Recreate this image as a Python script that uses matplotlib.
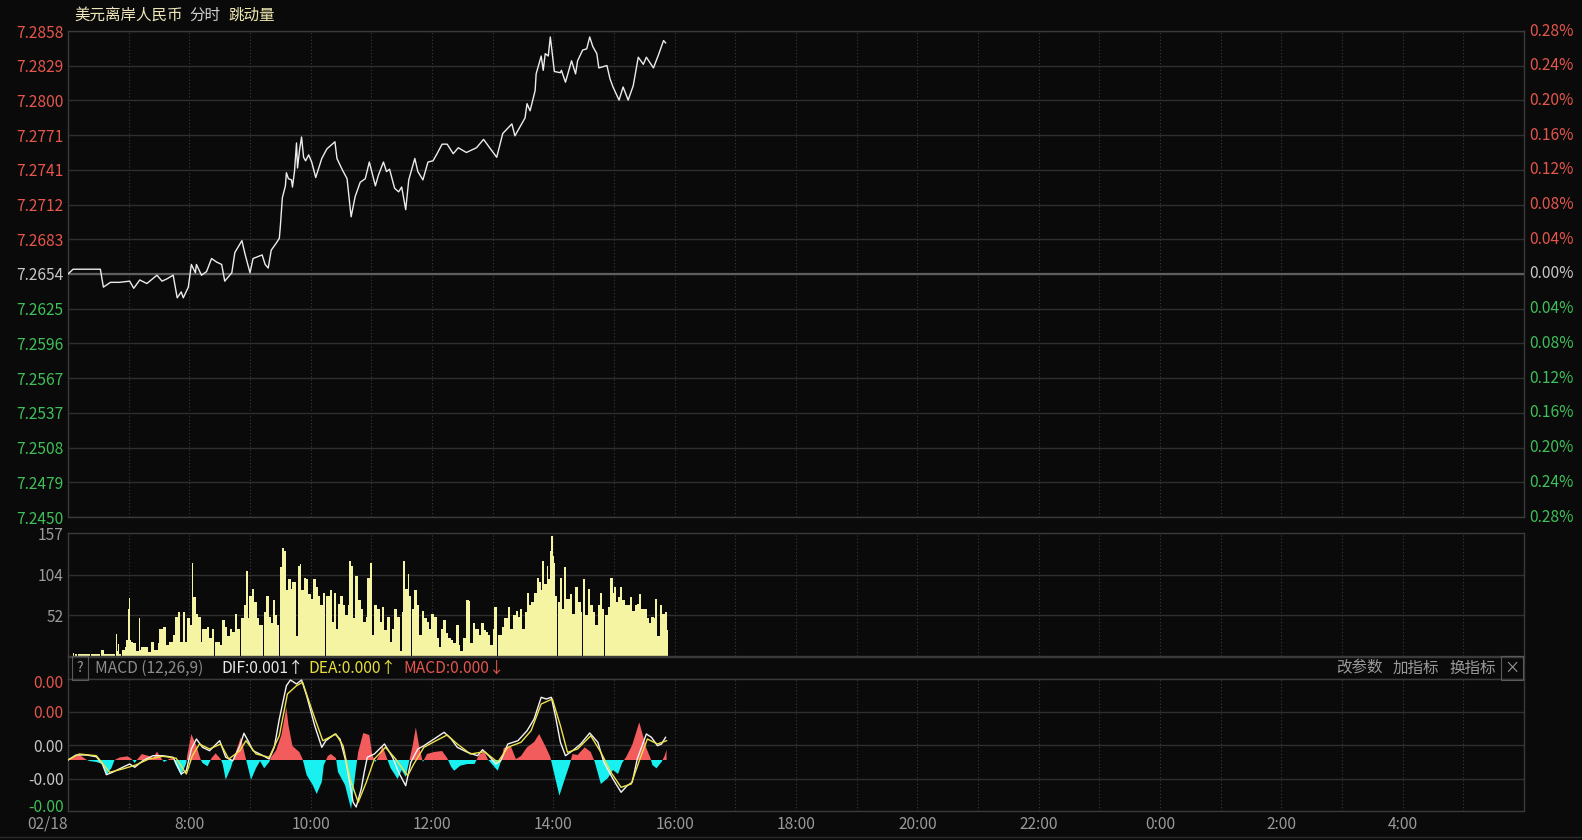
import numpy as np
import matplotlib.pyplot as plt
from matplotlib.lines import Line2D
from matplotlib.transforms import blended_transform_factory

plt.rcParams['font.family'] = ['Noto Sans CJK SC', 'DejaVu Sans']

W, H = 1582, 840
BG = '#0a0a0a'
RED = '#e5564d'
GREEN = '#3fc05a'
GRAY = '#9a9a9a'
FS = 11.2

# ---------------- data (x = minutes since 06:00 on 02/18) ----------------
pre_close = 7.2654
half_range = 0.0204
price_labels = ["7.2858", "7.2829", "7.2800", "7.2771", "7.2741", "7.2712", "7.2683", "7.2654",
                "7.2625", "7.2596", "7.2567", "7.2537", "7.2508", "7.2479", "7.2450"]
pct_labels = ["0.28%", "0.24%", "0.20%", "0.16%", "0.12%", "0.08%", "0.04%", "0.00%",
              "0.04%", "0.08%", "0.12%", "0.16%", "0.20%", "0.24%", "0.28%"]

price_min = [0, 5, 32, 35, 42, 51, 61, 65, 71, 78, 88, 93, 98, 104, 108, 112, 114, 119, 122, 126,
             127, 132, 137, 142, 147, 152, 155, 162, 165, 172, 175, 180, 183, 192, 195, 198, 201, 206, 209, 210,
             212, 215, 216, 218, 221, 222, 224, 226, 227, 229, 231, 233, 235, 238, 241, 245, 251, 256, 264, 266,
             271, 276, 280, 284, 289, 294, 298, 304, 307, 312, 315, 318, 323, 327, 330, 334, 337, 343, 346, 351,
             356, 361, 365, 370, 375, 381, 386, 394, 404, 411, 417, 424, 430, 439, 442, 452, 454, 457, 462, 463,
             468, 470, 472, 475, 477, 478, 481, 487, 488, 492, 498, 502, 504, 509, 513, 516, 519, 523, 525, 533,
             536, 539, 545, 549, 554, 559, 564, 569, 572, 579, 584, 589, 591]
price = [7.2654, 7.2658, 7.2658, 7.2643, 7.2647, 7.2647, 7.2648, 7.2642, 7.2649, 7.2646, 7.2653, 7.2648,
         7.2650, 7.2653, 7.2634, 7.2639, 7.2634, 7.2643, 7.2662, 7.2655,
         7.2662, 7.2653, 7.2656, 7.2667, 7.2664, 7.2662, 7.2648, 7.2655, 7.2672, 7.2682, 7.2671, 7.2655,
         7.2667, 7.2670, 7.2662, 7.2659, 7.2674, 7.2680, 7.2684, 7.2694,
         7.2718, 7.2728, 7.2739, 7.2734, 7.2733, 7.2727, 7.2740, 7.2764, 7.2743, 7.2758, 7.2769, 7.2752,
         7.2749, 7.2754, 7.2748, 7.2735, 7.2751, 7.2759, 7.2765, 7.2751,
         7.2742, 7.2734, 7.2702, 7.2719, 7.2731, 7.2734, 7.2748, 7.2728, 7.2737, 7.2748, 7.2740, 7.2742,
         7.2726, 7.2723, 7.2727, 7.2708, 7.2733, 7.2751, 7.2740, 7.2733,
         7.2748, 7.2749, 7.2755, 7.2763, 7.2763, 7.2755, 7.2760, 7.2756, 7.2760, 7.2767, 7.2760, 7.2752,
         7.2772, 7.2780, 7.2770, 7.2785, 7.2797, 7.2791, 7.2808, 7.2822,
         7.2837, 7.2825, 7.2839, 7.2837, 7.2853, 7.2846, 7.2824, 7.2823, 7.2825, 7.2815, 7.2833, 7.2822,
         7.2833, 7.2842, 7.2843, 7.2853, 7.2845, 7.2839, 7.2827, 7.2829,
         7.2818, 7.2811, 7.2800, 7.2811, 7.2800, 7.2812, 7.2836, 7.2830, 7.2836, 7.2827, 7.2838, 7.2850,
         7.2848]

vol_min = [5, 6, 8, 9, 21, 22, 31, 32, 34, 36, 38, 41, 44, 46, 47, 48, 49, 50, 52, 55,
           56, 57, 59, 60, 61, 62, 64, 67, 70, 71, 72, 75, 79, 82, 85, 89, 90, 94, 97, 100,
           104, 106, 109, 111, 114, 116, 118, 121, 123, 124, 127, 129, 132, 133, 137, 139, 142, 144, 147, 150,
           152, 155, 157, 160, 162, 165, 167, 170, 171, 174, 176, 178, 179, 182, 184, 187, 189, 193, 194, 196,
           199, 201, 203, 205, 207, 209, 211, 212, 214, 216, 218, 221, 222, 225, 227, 229, 230, 233, 235, 237,
           240, 242, 245, 247, 249, 252, 254, 256, 259, 261, 263, 265, 267, 269, 272, 274, 277, 278, 280, 282,
           284, 287, 290, 292, 295, 296, 299, 301, 303, 306, 309, 311, 313, 315, 318, 320, 322, 325, 328, 330,
           331, 333, 336, 337, 339, 341, 342, 345, 347, 350, 352, 355, 357, 359, 362, 365, 367, 369, 371, 374,
           376, 379, 381, 384, 387, 388, 391, 394, 397, 398, 401, 403, 406, 408, 411, 413, 415, 417, 420, 421,
           424, 426, 429, 431, 435, 437, 440, 443, 445, 447, 449, 452, 454, 456, 458, 461, 464, 466, 468, 469,
           471, 474, 475, 477, 478, 480, 481, 482, 484, 486, 487, 489, 491, 493, 496, 498, 501, 504, 507, 508,
           509, 511, 514, 516, 519, 521, 524, 526, 528, 530, 532, 534, 536, 539, 540, 542, 544, 546, 548, 551,
           553, 556, 558, 561, 563, 565, 567, 570, 573, 575, 577, 580, 581, 583, 585, 587, 590, 592]
vol = [4, 0, 3, 0, 2, 0, 2, 0, 8, 3, 2, 2, 2, 0, 28, 6, 15, 2, 0, 8,
       12, 20, 60, 74, 20, 18, 16, 6, 49, 8, 12, 12, 5, 18, 8, 16, 34, 37, 14, 18,
       27, 50, 56, 18, 56, 18, 48, 39, 119, 75, 54, 50, 18, 35, 37, 23, 35, 0, 18, 14,
       46, 37, 25, 35, 31, 54, 35, 0, 48, 65, 109, 48, 77, 86, 69, 48, 39, 0, 56, 77,
       50, 42, 71, 52, 39, 0, 113, 138, 134, 84, 98, 86, 94, 25, 115, 117, 84, 100, 98, 79,
       73, 98, 88, 77, 65, 81, 0, 77, 84, 44, 81, 35, 67, 77, 65, 52, 65, 121, 115, 48,
       102, 71, 60, 44, 50, 100, 119, 27, 65, 60, 44, 63, 33, 50, 18, 35, 60, 50, 6, 56,
       121, 86, 105, 77, 0, 60, 84, 65, 27, 58, 48, 44, 35, 54, 50, 23, 12, 35, 46, 29,
       23, 21, 16, 39, 14, 6, 23, 72, 70, 16, 42, 35, 27, 42, 33, 31, 27, 14, 35, 63,
       0, 27, 37, 48, 63, 35, 52, 58, 50, 60, 35, 56, 81, 65, 69, 81, 100, 94, 84, 121,
       92, 115, 98, 134, 153, 128, 119, 77, 0, 69, 100, 60, 113, 73, 79, 54, 88, 69, 56, 0,
       98, 52, 86, 65, 56, 39, 65, 81, 60, 0, 52, 63, 100, 81, 88, 69, 75, 88, 71, 65,
       65, 75, 58, 65, 67, 79, 60, 60, 48, 42, 50, 48, 73, 25, 65, 54, 56, 33]

# MACD values in units of 1e-5
macd_unit = 1e-5
hist_min = [1, 6, 11, 18, 21, 28, 34, 38, 43, 46, 51, 59, 63, 66, 68, 73, 80, 84, 88, 92,
            95, 100, 104, 106, 112, 117, 118, 122, 127, 131, 133, 138, 142, 146, 151, 153, 156, 161, 165, 171,
            175, 177, 181, 186, 190, 194, 199, 201, 206, 211, 216, 218, 222, 229, 232, 236, 242, 246, 251, 253,
            257, 260, 265, 267, 274, 280, 284, 287, 292,
            298, 301, 304, 308, 311, 315, 319, 326, 330, 334, 337, 341, 344, 348, 351, 355, 362, 370, 375, 379,
            382, 388, 395, 402, 407, 412, 415, 420, 425, 428, 431, 438, 443, 448, 454, 461, 466, 473, 477, 480,
            486, 491, 496, 499, 504, 511, 517, 521, 527, 534, 539, 544, 548, 552, 558, 565, 572, 576, 578, 582,
            587, 590, 592]
hist = [0, 3, 5.3, 0.5, -1, -2, -4, -15, -8, 0, 2.5, 3.7, 1, -3, 0, 6, 4, 2, 8.3, 2,
        -2, 1, 2, -4, -15.7, -3, 5, 26, 14, 1, -3, -6.3, 2, 6.7, 1, -4, -19.7, -8, 5, 22.7,
        5, -3, -19.7, -8, -1, -8.3, -2, 3, 10, 25, 52.7, 35, 14, 7.7, 1, -15, -25, -34, -22, -5,
        4, 6, 2, -12, -25, -49, -15, 8, 27,
        25, 5, -2, 5, 14.3, 3, -8, -19, -10, -17, -3, 15, 32.7, 10, -2, 6, 8, 9, 2, -7,
        -10.7, -5.7, -4, -4, 6, 7.7, 1, -5, -10.7, -2, 12, 13.7, 1, 4, 12.7, 18, 26, 12, 3, -10,
        -35.7, -20, -5, 6, 5, 12.7, 8, -2, -24, -18, -10, -14, -3, 3, 15, 37.7, 12, 2, -5, -8.3,
        -2, 4, 10.3]

dif_min = [0, 8, 18, 28, 34, 38, 44, 54, 61, 66, 74, 84, 94, 104, 112, 117, 122, 127, 133, 140,
           150, 156, 163, 170, 174, 178, 183, 193, 199, 204, 209, 216, 220, 226, 231, 236, 244, 251, 255, 264,
           269, 275, 282, 285, 290, 293, 296, 303, 313, 321, 327, 334, 339, 346, 352, 362, 372, 379, 385, 395,
           405, 410, 416, 423, 428, 435, 445, 454, 461, 468, 473, 478, 482, 487, 492, 499, 507, 516, 524, 530,
           539, 547, 553, 558, 563, 572, 577, 583, 587, 591]
dif = [0, 5, 5, 3.3, -4, -14.7, -12.3, -7.3, -4, -7.3, -0.7, 4.3, 4.3, 2.7, -14, -10.7, 11, 21, 12.7, 9.3,
       19.3, 2.7, -0.7, 14.3, 26.7, 19.3, 9.3, 4.3, 1, 12.7, 41, 74.3, 80, 76, 80, 64.3, 34.3, 12.7, 19.3, 26,
       21, -2.3, -42.3, -47, -29, -12, 2.7, 6, 16, 2.7, -12.3, -25.7, -2.3, 11, 14.3, 21, 27.7, 21, 12.7, 7.7,
       4.3, 10.3, 4.3, -4, -0.7, 16, 19.3, 29.3, 41, 62.7, 61, 62.7, 44.3, 17.7, 4.3, 9.3, 16, 27, 17.7, -2.3,
       -19, -32.3, -25.7, -22.3, 1, 26, 22.7, 14.3, 16, 22.7]

dea_min = [0, 11, 28, 36, 41, 54, 67, 80, 94, 107, 117, 123, 130, 140, 151, 159, 170, 176, 186, 199,
           209, 217, 226, 232, 242, 252, 265, 272, 279, 287, 295, 303, 314, 324, 336, 342, 352, 364, 375, 385,
           398, 412, 425, 435, 448, 458, 468, 479, 487, 494, 504, 517, 527, 537, 547, 557, 565, 573, 583, 592]
dea = [0, 6, 4.3, -5.7, -12.3, -9, -5, 1, 3.7, 1.7, -14, 4.3, 16, 11, 16, 1, 9.3, 19.3, 6, 2.7,
       24.3, 66, 74.3, 77.7, 47.7, 19.3, 26, 14.3, -19, -42.3, -22.3, 1, 12.7, 1, -15.7, -4, 12.7, 19.3, 25, 16,
       6, 8.3, -2.3, 12.7, 17.7, 29.3, 56, 61, 34.3, 7.7, 11, 24.3, 7.7, -12.3, -27.3, -24, -0.7, 21, 16, 19.3]

macd_ticks = [78, 48, 14.7, -18.7, -45]
macd_tick_colors = [RED, RED, '#c8c8c8', '#c8c8c8', GREEN]

hour_ticks = [120, 240, 360, 480, 600, 720, 840, 960, 1080, 1200, 1320]
hour_labels = ["8:00", "10:00", "12:00", "14:00", "16:00", "18:00", "20:00", "22:00", "0:00", "2:00", "4:00"]


# ---------------- layout ----------------
fig = plt.figure(figsize=(W / 100, H / 100), dpi=100, facecolor=BG)


def px_axes(x0, y0, x1, y1):
    ax = fig.add_axes([x0 / W, 1 - y1 / H, (x1 - x0) / W, (y1 - y0) / H])
    ax.set_facecolor(BG)
    ax.set_xlim(0, 1440)
    ax.set_xticks([])
    for s in ax.spines.values():
        s.set_color('#3a3a3a')
        s.set_linewidth(1)
    return ax


def hour_grid(ax):
    for m in range(60, 1440, 60):
        ax.axvline(m, color='#3a3a3a', lw=0.8, ls=(0, (1, 2)), zorder=0)


ax_p = px_axes(68, 31, 1524, 517)
ax_v = px_axes(68, 533, 1524, 656)
ax_h = px_axes(68, 657, 1524, 679)
ax_m = px_axes(68, 679, 1524, 811)

# ---- price panel ----
ticks = [pre_close + half_range * k / 7 for k in range(7, -8, -1)]
ax_p.set_ylim(pre_close - half_range, pre_close + half_range)
hour_grid(ax_p)
for t in ticks:
    ax_p.axhline(t, color='#2e2e2e', lw=1, zorder=0)
ax_p.axhline(pre_close, color='#5e5e5e', lw=1.6, zorder=1)
ax_p.plot(price_min, price, color='#ececec', lw=1.0, zorder=3)

ax_p.set_yticks(ticks)
ax_p.set_yticklabels(price_labels)
ax_p.tick_params(axis='y', length=0, pad=3, labelsize=FS)
tr = blended_transform_factory(ax_p.transAxes, ax_p.transData)
for i, (lab, t) in enumerate(zip(ax_p.get_yticklabels(), ticks)):
    c = RED if i < 7 else ('#c8c8c8' if i == 7 else GREEN)
    lab.set_color(c)
    ax_p.text(1 + 5 / 1456, t, pct_labels[i], transform=tr, ha='left', va='center',
              color=c, fontsize=FS, clip_on=False)

# ---- volume panel ----
ax_v.set_ylim(0, 157)
hour_grid(ax_v)
for t in (52, 104):
    ax_v.axhline(t, color='#2e2e2e', lw=1, zorder=0)
# zero-volume minutes are single-minute gaps; the next bar starts right after them
lefts = list(vol_min)
widths = list(np.diff(vol_min)) + [1.5]
for i, v in enumerate(vol):
    if v == 0 and i + 1 < len(vol):
        widths[i] = 1
        shift = lefts[i + 1] - (lefts[i] + 1)
        lefts[i + 1] -= shift
        widths[i + 1] += shift
ax_v.bar(lefts, vol, width=widths, align='edge', color='#f4f4a2', linewidth=0,
         antialiased=False, zorder=2)
ax_v.set_yticks([52, 104, 157])
ax_v.set_yticklabels(["52", "104", "157"])
ax_v.tick_params(axis='y', length=0, pad=3, labelsize=FS, labelcolor=GRAY)

# ---- MACD header strip ----
ax_h.set_yticks([])
fy = 1 - 668 / H
fig.text(80 / W, fy, "?", color=GRAY, fontsize=10, ha='center', va='center',
         bbox=dict(boxstyle='square,pad=0.35', fc='none', ec='#5a5a5a', lw=0.8))
fig.text(95 / W, fy, "MACD (12,26,9)", color='#8c8c8c', fontsize=FS, va='center')
fig.text(221 / W, fy, "DIF:0.001↑", color='#e8e8e8', fontsize=FS, va='center')
fig.text(308 / W, fy, "DEA:0.000↑", color='#e6df3c', fontsize=FS, va='center')
fig.text(403 / W, fy, "MACD:0.000↓", color=RED, fontsize=FS, va='center')
fig.text(1336 / W, fy, "改参数", color=GRAY, fontsize=FS, va='center')
fig.text(1393 / W, fy, "加指标", color=GRAY, fontsize=FS, va='center')
fig.text(1449 / W, fy, "换指标", color=GRAY, fontsize=FS, va='center')
fig.text(1512 / W, fy, "×", color=GRAY, fontsize=11, ha='center', va='center',
         bbox=dict(boxstyle='square,pad=0.25', fc='none', ec='#5a5a5a', lw=0.8))

# ---- MACD panel ----
ax_m.set_ylim(-51 * macd_unit, 81 * macd_unit)
hour_grid(ax_m)
for t in (48, 14.7, -18.7):
    ax_m.axhline(t * macd_unit, color='#2e2e2e', lw=1, zorder=0)
hm = np.array(hist_min)
hv = np.array(hist) * macd_unit
ax_m.fill_between(hm, 0, hv, where=hv >= 0, interpolate=True, color='#f25c5c', lw=0, zorder=2)
ax_m.fill_between(hm, 0, hv, where=hv <= 0, interpolate=True, color='#19f0f0', lw=0, zorder=2)
ax_m.plot(dif_min, np.array(dif) * macd_unit, color='#f4f4f4', lw=1.0, zorder=3)
ax_m.plot(dea_min, np.array(dea) * macd_unit, color='#ece24a', lw=1.0, zorder=3)
mt = [v * macd_unit for v in macd_ticks]
ax_m.set_yticks(mt)
ax_m.set_yticklabels([f"{v:.2f}" for v in mt])
ax_m.tick_params(axis='y', length=0, pad=3, labelsize=FS)
for lab, c in zip(ax_m.get_yticklabels(), macd_tick_colors):
    lab.set_color(c)

# ---- time labels ----
trx = blended_transform_factory(ax_m.transData, ax_m.transAxes)
ax_m.text(-20, -0.1, "02/18", transform=trx, ha='center', va='center', color=GRAY,
          fontsize=FS, clip_on=False)
for m, lab in zip(hour_ticks, hour_labels):
    ax_m.text(m, -0.1, lab, transform=trx, ha='center', va='center', color=GRAY,
              fontsize=FS, clip_on=False)

# ---- title ----
ty = 1 - 15 / H
fig.text(74 / W, ty, "美元离岸人民币", color='#efe7bb', fontsize=FS, va='center')
fig.text(189 / W, ty, "分时", color='#cfcfcf', fontsize=FS, va='center')
fig.text(228 / W, ty, "跳动量", color='#efe8b0', fontsize=FS, va='center')

fig.add_artist(Line2D([0, 1], [1 - 837 / H] * 2, color='#2a2a2a', lw=1))

fig.savefig("out.png", dpi=100, facecolor=BG)
